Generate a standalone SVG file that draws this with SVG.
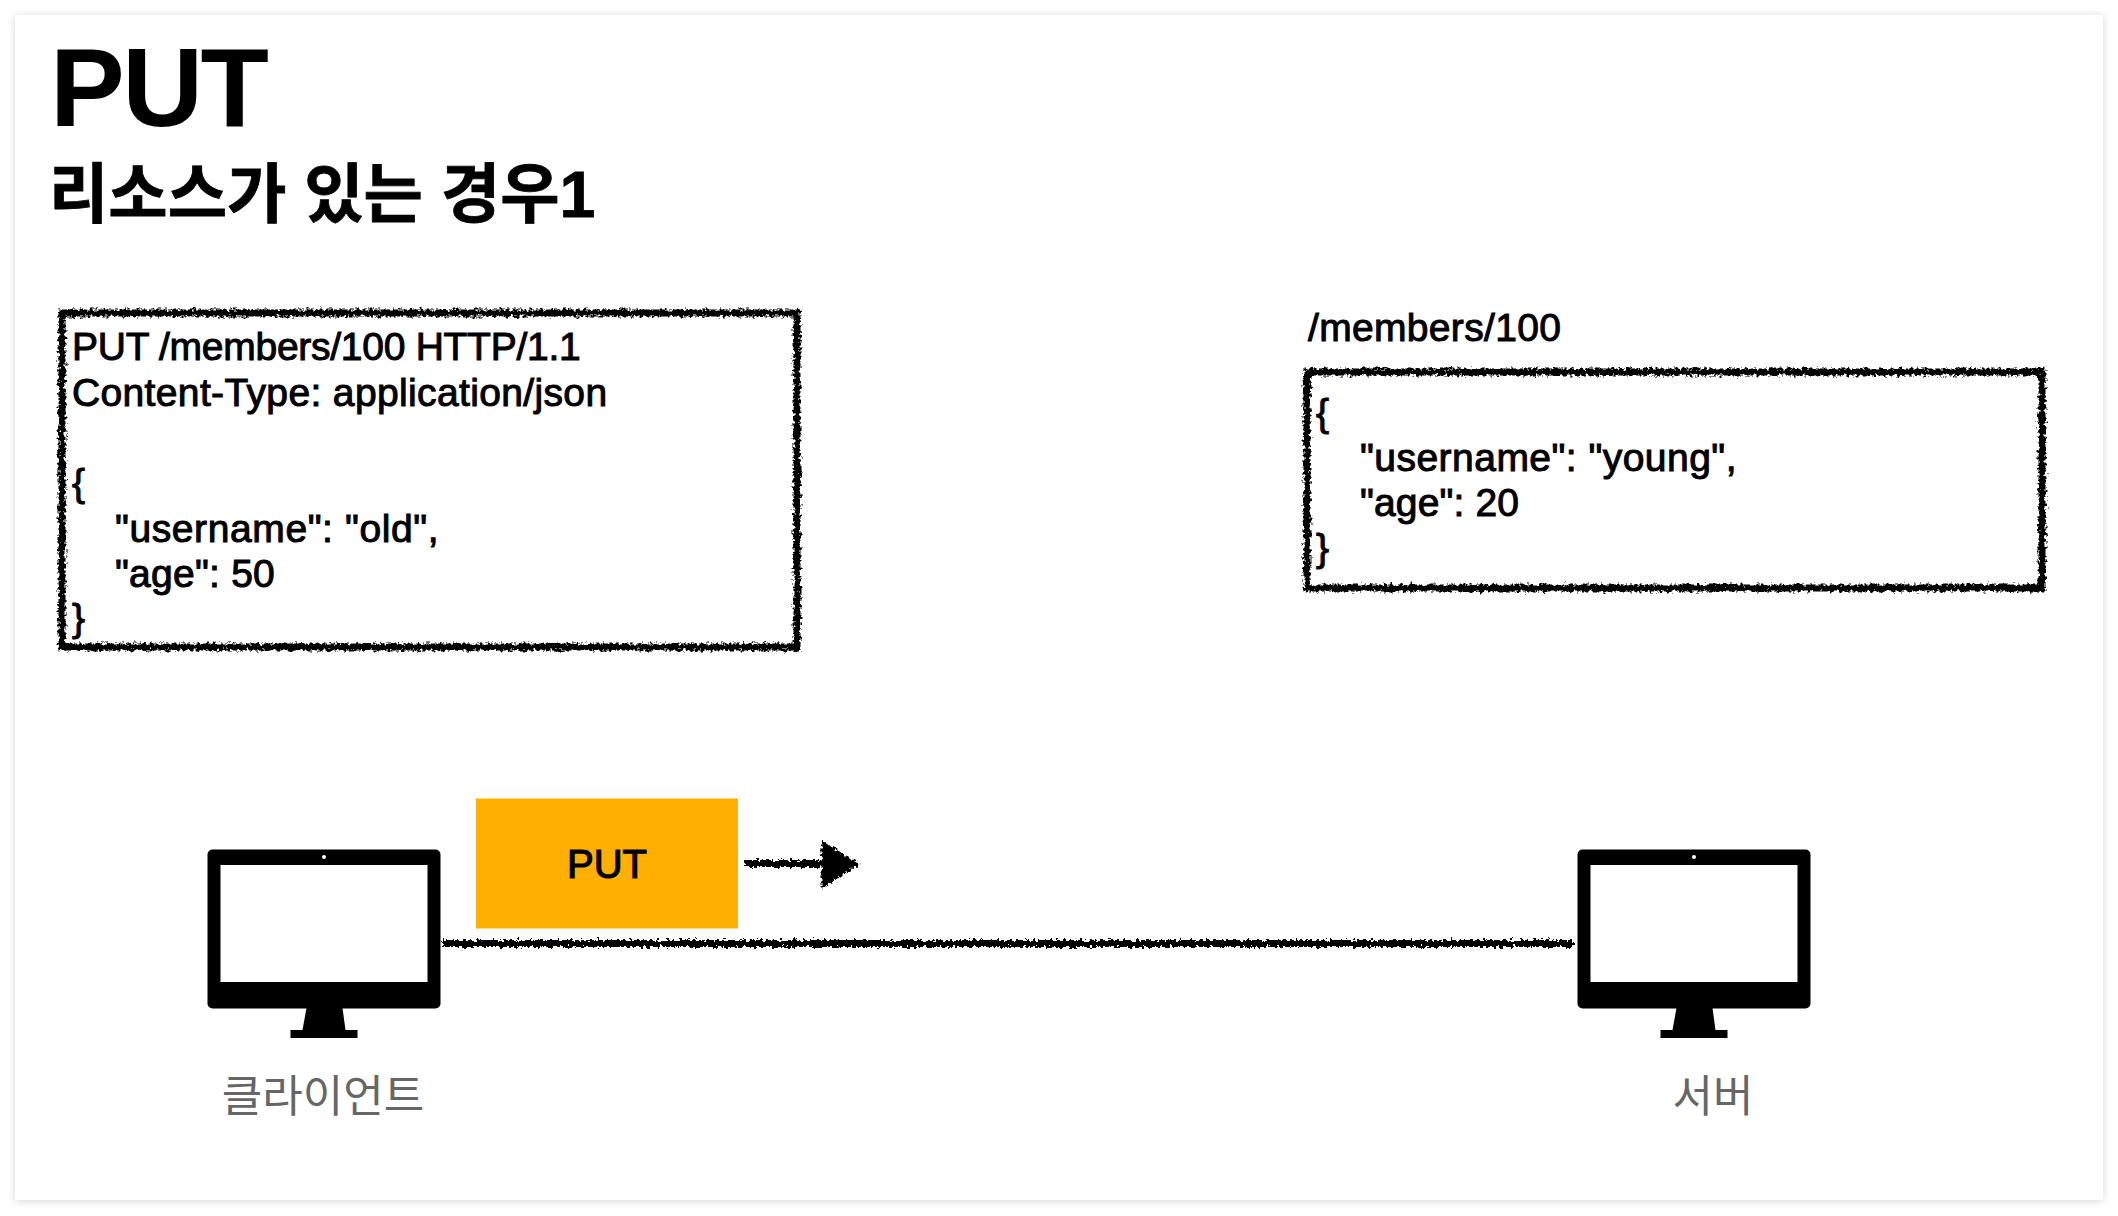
<svg xmlns="http://www.w3.org/2000/svg" width="2118" height="1216" viewBox="0 0 2118 1216">
  <style>
    .lat { font-family: "Liberation Sans", Arial, sans-serif; fill: #000; }
    .kr { font-family: "Liberation Sans", "Noto Sans CJK KR", sans-serif; }
    .body { font-size: 39px; stroke: #000; stroke-width: 1px; }
    .label { font-family: "Noto Sans CJK KR", sans-serif; font-size: 44px; fill: #666; text-anchor: middle; }
    .rough { fill: none; stroke: #000; stroke-width: 7px; filter: url(#rough); }
  </style>
  <defs>
    <filter id="rough" x="-5%" y="-5%" width="110%" height="110%" filterUnits="objectBoundingBox" primitiveUnits="userSpaceOnUse">
      <feTurbulence type="fractalNoise" baseFrequency="0.3" numOctaves="3" seed="4" result="n"/>
      <feDisplacementMap in="SourceGraphic" in2="n" scale="8" xChannelSelector="R" yChannelSelector="G"/>
    </filter>
    <filter id="roughLine" x="0" y="-4000" width="2118" height="8000" filterUnits="userSpaceOnUse" primitiveUnits="userSpaceOnUse">
      <feTurbulence type="fractalNoise" baseFrequency="0.3" numOctaves="3" seed="9" result="n"/>
      <feDisplacementMap in="SourceGraphic" in2="n" scale="8" xChannelSelector="R" yChannelSelector="G"/>
    </filter>
    <filter id="shadow" x="-2%" y="-2%" width="104%" height="104%">
      <feDropShadow dx="0" dy="1" stdDeviation="4" flood-color="#000" flood-opacity="0.16"/>
    </filter>
    <g id="monitor">
      <rect x="207.500" y="849.500" width="233" height="159" rx="5" fill="#000"/>
      <rect x="220.500" y="865" width="207" height="117" fill="#fff"/>
      <circle cx="324" cy="857" r="2" fill="#fff"/>
      <path d="M306.500 1008H342.500L345.500 1030H357.500V1038H290.500V1030H302.500Z" fill="#000"/>
    </g>
  </defs>

  <rect width="2118" height="1216" fill="#fff"/>
  <rect id="slide" x="15" y="15" width="2088" height="1185" fill="#fff" filter="url(#shadow)"/>

  <g id="title">
    <text class="lat" x="50" y="126" font-size="112" font-weight="700" letter-spacing="-2.500">PUT</text>
    <text class="kr" x="49" y="217" font-size="64.500" font-weight="700" fill="#000" stroke="#000" stroke-width="0.800">리소스가 있는 경우1</text>
  </g>

  <g id="request">
    <rect class="rough" x="62" y="313" width="735" height="334"/>
    <text class="lat body" x="72" y="360" letter-spacing="-0.270">PUT /members/100 HTTP/1.1</text>
    <text class="lat body" x="72" y="406" letter-spacing="0.360">Content-Type: application/json</text>
    <text class="lat body" x="72" y="496">{</text>
    <text class="lat body" x="115" y="542" letter-spacing="0.600">"username": "old",</text>
    <text class="lat body" x="115" y="587" letter-spacing="0.250">"age": 50</text>
    <text class="lat body" x="72" y="631">}</text>
  </g>

  <g id="resource">
    <text class="lat body" x="1308" y="341" letter-spacing="0.330">/members/100</text>
    <rect class="rough" x="1307" y="372" width="735" height="216"/>
    <text class="lat body" x="1316" y="426">{</text>
    <text class="lat body" x="1360" y="471" letter-spacing="0.470">"username": "young",</text>
    <text class="lat body" x="1360" y="516" letter-spacing="0.150">"age": 20</text>
    <text class="lat body" x="1316" y="561">}</text>
  </g>

  <g id="client">
    <use href="#monitor"/>
    <text class="label" x="323" y="1112">클라이언트</text>
  </g>

  <g id="server">
    <use href="#monitor" x="1370"/>
    <text class="label" x="1713" y="1112">서버</text>
  </g>

  <g id="message">
    <rect x="476" y="798.500" width="262" height="130" fill="#ffaf00"/>
    <text class="lat" x="607" y="878" font-size="40" text-anchor="middle" stroke="#000" stroke-width="1.200">PUT</text>
  </g>

  <g id="connectors">
    <path d="M442 943.500H1573" fill="none" stroke="#000" stroke-width="7" filter="url(#roughLine)"/>
    <path d="M745 863.500H826" fill="none" stroke="#000" stroke-width="7" filter="url(#roughLine)"/>
    <path d="M823 843L857 864L823 886Z" fill="#000" stroke="#000" stroke-width="3" filter="url(#roughLine)"/>
  </g>
</svg>
